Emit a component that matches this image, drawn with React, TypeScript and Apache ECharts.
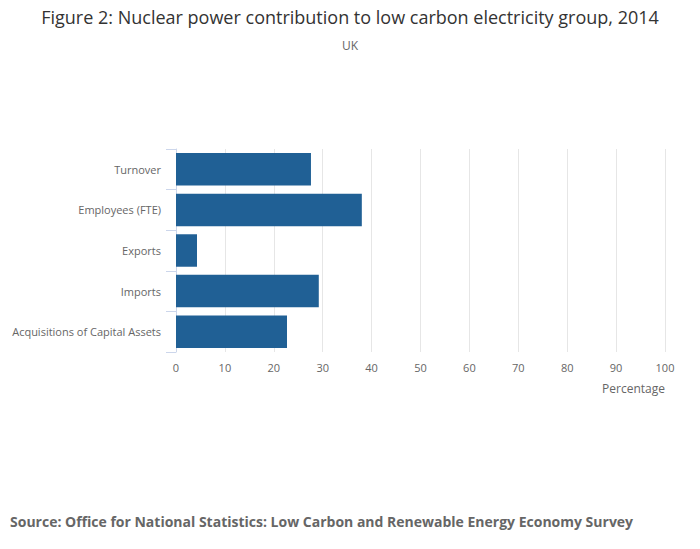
import React, { useEffect, useRef } from "react";
import * as echarts from "echarts";

const categories = [
  "Turnover",
  "Employees (FTE)",
  "Exports",
  "Imports",
  "Acquisitions of Capital Assets",
];
const values = [27.6, 38.0, 4.3, 29.2, 22.7];
const titleText = "Figure 2: Nuclear power contribution to low carbon electricity group, 2014";
const subtitleText = "UK";
const axisTitle = "Percentage";
const sourceText = "Source: Office for National Statistics: Low Carbon and Renewable Energy Economy Survey";

export default function App() {
  const ref = useRef<HTMLDivElement>(null);
  useEffect(() => {
    document.body.style.margin = "0";
    const chart = echarts.init(ref.current!, null, { renderer: "svg" });
    const font = "Open Sans";
    chart.setOption({
      animation: false,
      textStyle: { fontFamily: font },
      title: [
        {
          text: titleText,
          left: "center",
          top: 3,
          textStyle: { fontSize: 18, fontWeight: "normal", color: "#333333", fontFamily: font },
        },
        {
          text: subtitleText,
          left: "center",
          top: 34,
          textStyle: { fontSize: 12, fontWeight: "normal", color: "#666666", fontFamily: font },
        },
        {
          text: sourceText,
          left: 5,
          top: 509,
          textStyle: { fontSize: 14, fontWeight: "bold", color: "#666666", fontFamily: font },
        },
      ],
      grid: { left: 176, right: 35, top: 149, bottom: 197, containLabel: false },
      xAxis: {
        type: "value",
        min: 0,
        max: 100,
        interval: 10,
        axisLine: { show: false },
        axisTick: { show: false },
        axisLabel: { color: "#666666", fontSize: 11, margin: 10, fontFamily: font },
        splitLine: { lineStyle: { color: "#e6e6e6", width: 1 } },
        name: axisTitle,
        nameLocation: "end",
        nameGap: 0,
        nameTextStyle: {
          color: "#666666",
          fontSize: 12,
          align: "right",
          verticalAlign: "top",
          padding: [30, 0, 0, 0],
          fontFamily: font,
        },
      },
      yAxis: {
        type: "category",
        data: categories,
        inverse: true,
        axisLine: { show: true, lineStyle: { color: "#ccd6eb" } },
        axisTick: { show: true, length: 10, lineStyle: { color: "#ccd6eb" } },
        axisLabel: { color: "#666666", fontSize: 11, margin: 15, fontFamily: font },
        splitLine: { show: false },
      },
      series: [
        {
          type: "bar",
          data: values,
          barCategoryGap: "20%",
          itemStyle: { color: "#206095" },
        },
      ],
    });
    return () => chart.dispose();
  }, []);
  return <div ref={ref} style={{ width: 700, height: 549 }} />;
}
